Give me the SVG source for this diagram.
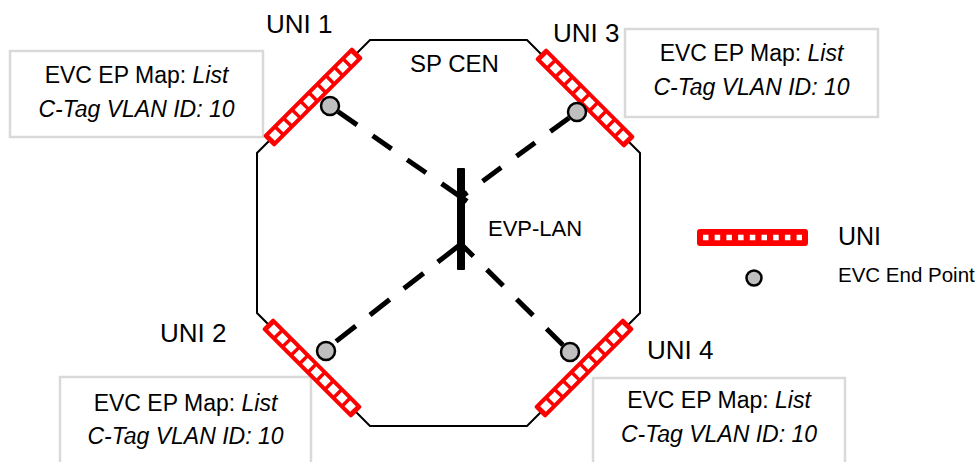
<svg xmlns="http://www.w3.org/2000/svg" width="979" height="462" viewBox="0 0 979 462">
<style>
  text { font-family: "Liberation Sans", Arial, sans-serif; fill: #000; }
  .lbl { font-size: 26px; }
  .box { fill: #fff; stroke: #d9d9d9; stroke-width: 2.5; }
  .boxt { font-size: 23px; text-anchor: middle; }
  .it { font-style: italic; }
  .ep { fill: #bfbfbf; stroke: #000; stroke-width: 2.5; }
  .conn { fill: none; stroke: #000; stroke-width: 5; }
</style>
<defs>
  <g id="uniBar">
    <rect x="-63" y="-8" width="126" height="16" rx="2" fill="#ff0000"/>
    <line x1="-58" y1="0" x2="58" y2="0" stroke="#fff" stroke-width="8" stroke-dasharray="8.5 3.5"/>
  </g>
</defs>
<rect width="979" height="462" fill="#fff"/>

<g id="sp-cen">
  <path d="M370,40 L527,40 L640,153 L640,313 L527,426 L370,426 L257,313 L257,153 Z" fill="none" stroke="#000" stroke-width="2"/>
  <text x="410" y="72" style="font-size:24px">SP CEN</text>
</g>

<g id="box-uni1">
  <rect class="box" x="10" y="51" width="253" height="86"/>
  <text class="boxt" x="136.5" y="83">EVC EP Map: <tspan class="it">List</tspan></text>
  <text class="boxt it" x="136.5" y="117">C-Tag VLAN ID: 10</text>
</g>
<g id="box-uni3">
  <rect class="box" x="625" y="29" width="253" height="88"/>
  <text class="boxt" x="751.5" y="61">EVC EP Map: <tspan class="it">List</tspan></text>
  <text class="boxt it" x="751.5" y="95">C-Tag VLAN ID: 10</text>
</g>
<g id="box-uni2">
  <rect class="box" x="60" y="377" width="251" height="100"/>
  <text class="boxt" x="185.5" y="411">EVC EP Map: <tspan class="it">List</tspan></text>
  <text class="boxt it" x="185.5" y="444">C-Tag VLAN ID: 10</text>
</g>
<g id="box-uni4">
  <rect class="box" x="593" y="378" width="252" height="100"/>
  <text class="boxt" x="719" y="408">EVC EP Map: <tspan class="it">List</tspan></text>
  <text class="boxt it" x="719" y="442">C-Tag VLAN ID: 10</text>
</g>

<g id="connectors">
  <path class="conn" d="M330,106 L468,202" stroke-dasharray="0 10 23 19 23 19 23 19 31 100"/>
  <path class="conn" d="M577,112 L461,197" stroke-dasharray="0 10 23 19 23 19 23 19 23 100"/>
  <path class="conn" d="M325,350 L461,244" stroke-dasharray="0 14 25 18 25 18 25 18 40 100"/>
  <path class="conn" d="M570,352 L461,244" stroke-dasharray="0 10 23 19 23 19 23 19 23 100"/>
</g>

<g id="evp-lan">
  <rect x="457" y="168" width="8" height="102" rx="1" fill="#000"/>
  <text x="488" y="236" style="font-size:22px">EVP-LAN</text>
</g>

<g id="uni1">
  <use href="#uniBar" transform="translate(313,97) rotate(-45)"/>
  <circle class="ep" cx="330" cy="106" r="9"/>
  <text class="lbl" x="266" y="33">UNI 1</text>
</g>
<g id="uni3">
  <use href="#uniBar" transform="translate(585,98) rotate(45)"/>
  <circle class="ep" cx="577" cy="112" r="9"/>
  <text class="lbl" x="553" y="42">UNI 3</text>
</g>
<g id="uni2">
  <use href="#uniBar" transform="translate(312,368) rotate(45)"/>
  <circle class="ep" cx="326" cy="351" r="9"/>
  <text class="lbl" x="160" y="342">UNI 2</text>
</g>
<g id="uni4">
  <use href="#uniBar" transform="translate(584,368) rotate(-45)"/>
  <circle class="ep" cx="570" cy="352" r="9"/>
  <text class="lbl" x="647" y="359">UNI 4</text>
</g>

<g id="legend">
  <rect x="697" y="229" width="111" height="17" rx="3" fill="#ff0000"/>
  <line x1="703" y1="237.5" x2="802" y2="237.5" stroke="#fff" stroke-width="5.5" stroke-dasharray="5.5 6.2"/>
  <text x="838" y="245" style="font-size:25px">UNI</text>
  <circle class="ep" cx="754" cy="278" r="7.5"/>
  <text x="838" y="282" style="font-size:20.5px">EVC End Point</text>
</g>
</svg>
